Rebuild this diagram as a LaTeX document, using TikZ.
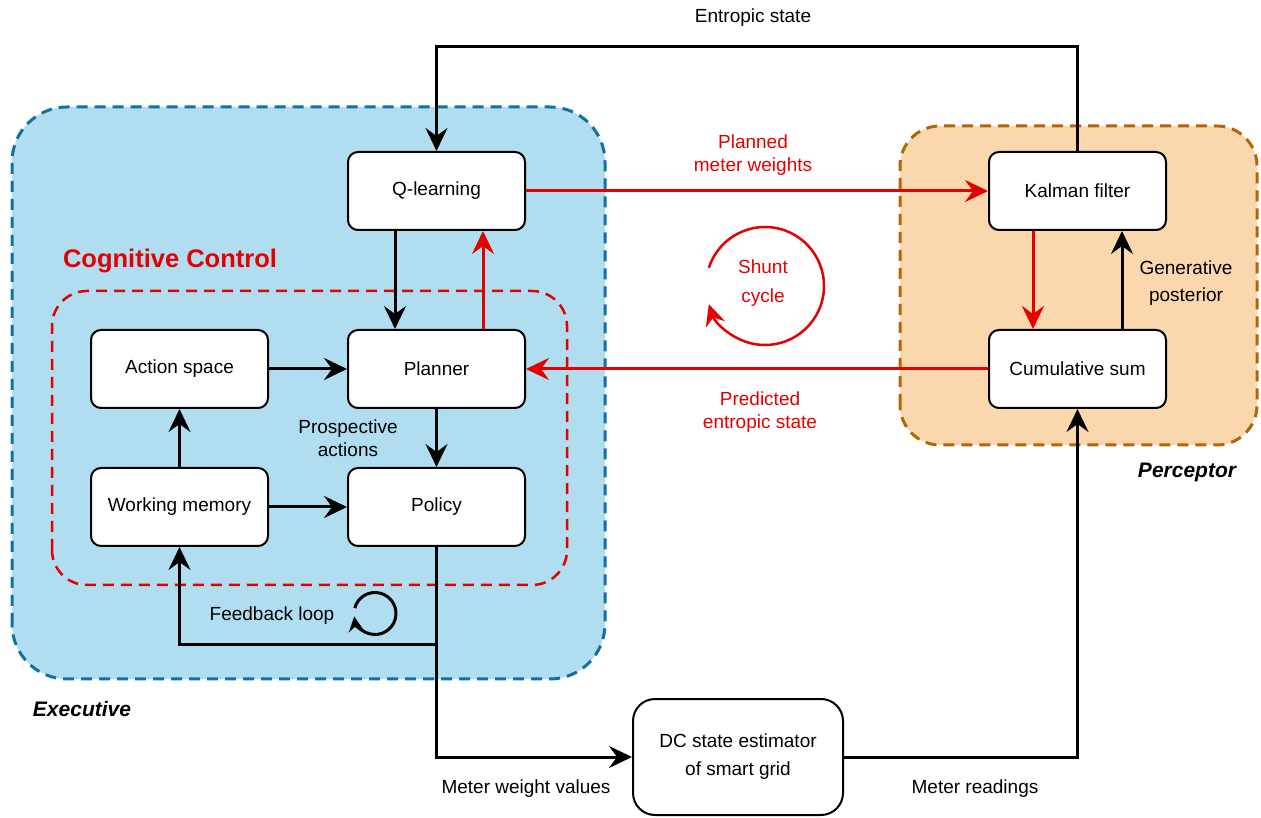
\documentclass[tikz,border=0pt]{standalone}
\usepackage{fontspec}
\setmainfont{Liberation Sans}
\usetikzlibrary{arrows.meta}
\definecolor{ctrlred}{RGB}{228,0,0}
\definecolor{execfill}{HTML}{B1DDF0}
\definecolor{execline}{HTML}{10739E}
\definecolor{percfill}{HTML}{FAD7AC}
\definecolor{percline}{HTML}{B46504}
\begin{document}
\begin{tikzpicture}[x=1pt,y=1pt,
  every node/.style={font=\fontsize{19}{23}\selectfont},
  block/.style={draw=black, line width=2pt, fill=white, rounded corners=10pt,
    minimum width=177pt, minimum height=78pt, align=center, inner sep=0pt},
  flow/.style={line width=3pt, -{Stealth[length=23pt,width=22pt,inset=8pt]}},
  redflow/.style={flow, draw=ctrlred},
  lbl/.style={align=center, inner sep=0pt},
  region/.style={line width=3pt, dash pattern=on 11pt off 7pt},
  heading/.style={inner sep=0pt, font=\fontsize{21}{25}\selectfont\bfseries\itshape}]
\useasboundingbox (0,0) rectangle (1261,817);

% grouping regions
\draw[region, draw=execline, fill=execfill, rounded corners=55pt] (12,138) rectangle (605,710);
\draw[region, draw=percline, fill=percfill, rounded corners=40pt] (900,372) rectangle (1257,691);
\draw[line width=2.5pt, dash pattern=on 11pt off 7pt, draw=ctrlred, rounded corners=35pt] (52,232) rectangle (567,526);

% blocks
\node[block] (qlearn) at (436.5,626) {Q-learning};
\node[block] (planner) at (436.5,448) {Planner};
\node[block] (policy) at (436.5,310) {Policy};
\node[block] (action) at (179.5,448) {Action space};
\node[block] (wm) at (179.5,310) {Working memory};
\node[block] (kalman) at (1077.5,626) {Kalman filter};
\node[block] (cumsum) at (1077.5,448) {Cumulative sum};
\node[block, minimum width=210pt, minimum height=116pt, rounded corners=22pt] (dc) at (738,60) {DC state estimator\\[5pt]of smart grid};

% connectors
\coordinate (toprail) at (0,770);
\coordinate (fb) at (436.5,172);
\draw[flow] (kalman.north) -- (kalman.north |- toprail) -| (qlearn.north);
\draw[redflow] (qlearn.east) -- (kalman.west);
\draw[flow] ([xshift=-41.5pt]qlearn.south) -- ([xshift=-41.5pt]planner.north);
\draw[redflow] ([xshift=46.5pt]planner.north) -- ([xshift=46.5pt]qlearn.south);
\draw[flow] (action.east) -- (planner.west);
\draw[flow] (wm.north) -- (action.south);
\draw[flow] (wm.east) -- (policy.west);
\draw[flow] (planner.south) -- (policy.north);
\draw[redflow] (cumsum.west) -- (planner.east);
\draw[redflow] ([xshift=-44.5pt]kalman.south) -- ([xshift=-44.5pt]cumsum.north);
\draw[flow] ([xshift=44.5pt]cumsum.north) -- ([xshift=44.5pt]kalman.south);
\draw[flow] (policy.south) -- (fb) -| (wm.south);
\draw[flow] (fb) |- (dc.west);
\draw[flow] (dc.east) -| (cumsum.south);

% cycle symbols
\coordinate (shuntc) at (765,531);
\draw[ctrlred, line width=2.5pt, -{Stealth[length=21pt,width=20pt,inset=7pt]}]
  (shuntc) ++(162:59) arc[start angle=162, end angle=-162, radius=59];
\coordinate (fbc) at (375,203.5);
\draw[line width=3pt, -{Stealth[length=15pt,width=15pt,inset=5pt]}]
  (fbc) ++(165:21) arc[start angle=165, end angle=-172, radius=21];

% labels
\node[lbl] (entlbl) at (753,799) {Entropic state};
\node[lbl, text=ctrlred] (planlbl) at (753,662) {Planned\\meter weights};
\node[lbl, text=ctrlred] (predlbl) at (760,405) {Predicted\\entropic state};
\node[lbl] (proslbl) at (348,379) {Prospective\\actions};
\node[lbl] (genlbl) at (1186,534) {Generative\\[4pt]posterior};
\node[lbl, text=ctrlred] (shuntlbl) at (763,534) {Shunt\\[6pt]cycle};
\node[lbl] (fblbl) at (272,201) {Feedback loop};
\node[lbl] (mwlbl) at (526,28) {Meter weight values};
\node[lbl] (mrlbl) at (975,28) {Meter readings};
\node[inner sep=0pt, text=ctrlred, font=\fontsize{25.5}{30}\selectfont\bfseries] (cclbl) at (170,556) {Cognitive Control};
\node[heading] (execlbl) at (82,108) {Executive};
\node[heading] (perclbl) at (1187,345) {Perceptor};
\end{tikzpicture}
\end{document}
